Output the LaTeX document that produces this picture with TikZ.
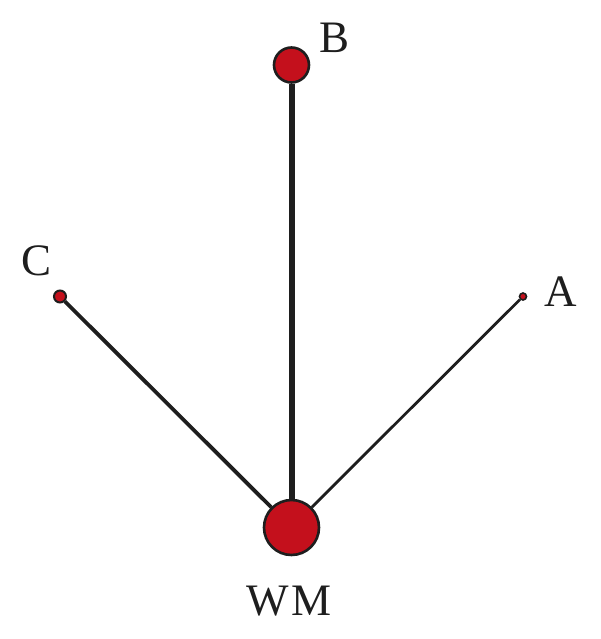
\documentclass[tikz,border=0pt]{standalone}
\usepackage{fontspec}
\setmainfont{Liberation Serif}
\definecolor{dotred}{HTML}{C4101C}
\definecolor{ink}{HTML}{1E1E1E}
\begin{document}
\begin{tikzpicture}[x=1pt,y=-1pt,
  dot/.style={circle,draw=ink,fill=dotred,inner sep=0pt},
  lbl/.style={font=\fontsize{45}{45}\selectfont,text=ink,inner sep=0pt},
  edge/.style={draw=ink}]
\useasboundingbox (0,0) rectangle (600,639);
\node[dot,minimum size=55pt,line width=2.6pt] (wm) at (291.5,527.5) {};
\node[dot,minimum size=35pt,line width=2.6pt] (b) at (291.5,65) {};
\node[dot,minimum size=12pt,line width=2pt] (c) at (60,296.5) {};
\node[dot,minimum size=7pt,line width=1.6pt] (a) at (523,296.5) {};
\draw[edge,line width=6pt] (wm) -- (b);
\draw[edge,line width=3.8pt] (wm) -- (c);
\draw[edge,line width=2.8pt] (wm) -- (a);
\node[lbl] (lb) at (335,38) {B};
\node[lbl] (lc) at (37,261) {C};
\node[lbl] (la) at (561,292) {A};
\node[lbl] (lwm) at (289,601) {W\kern3pt M};
\end{tikzpicture}
\end{document}
